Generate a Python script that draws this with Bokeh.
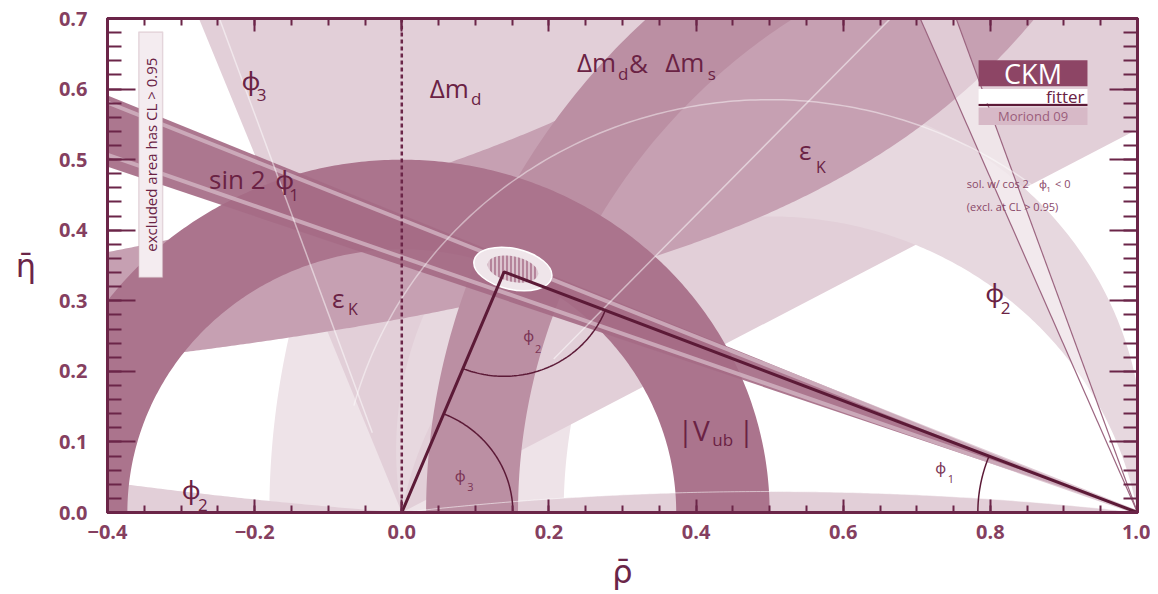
import numpy as np
from bokeh.plotting import figure
from bokeh.models import FixedTicker, LinearAxis, Range1d, Label, BoxAnnotation, Span, CustomJSTickFormatter
from bokeh.embed import file_html
from bokeh.resources import INLINE

# ---------------- values ----------------
rho_major = [-0.4, -0.2, 0.0, 0.2, 0.4, 0.6, 0.8, 1.0]
rho_labels = ["\u22120.4", "\u22120.2", "0.0", "0.2", "0.4", "0.6", "0.8", "1.0"]
rho_minor = [round(-0.4 + 0.05 * i, 2) for i in range(29)]
eta_major = [0.0, 0.1, 0.2, 0.3, 0.4, 0.5, 0.6, 0.7]
eta_labels = ["0.0", "0.1", "0.2", "0.3", "0.4", "0.5", "0.6", "0.7"]
eta_minor = [round(0.02 * i, 2) for i in range(36)]

apex = [0.139, 0.341]                 # fitted (rho, eta)
dmd_radii = [0.78, 1.18]              # Delta m_d ring around (1,0)
dms_radii = [0.842, 0.967]            # Delta m_d & Delta m_s ring around (1,0)
vub_radii = [0.373, 0.500]            # |Vub| ring around (0,0)
epsk_c = [0.389, 0.67]                # eps_K : eta = c / (rho0 - rho)
epsk_rho0 = [1.416]
phi3_deg = [28.5, 111.5]              # phi3 wedge from the origin
phi2_deg = [80.0, 100.0]              # phi2 band (circles through (0,0),(1,0))
phi2_sliver_deg = [173.2, 4.4]        # phi2 solutions hugging the axis
sin2phi1_slope = [0.350, 0.422]       # sin2phi1 band through (1,0)
sin2phi1_inner = [0.362, 0.415]
alt_slope = [2.37, 2.84]              # cos2phi1<0 solution
fit_ellipse = [0.151, 0.345, 0.108, 0.058, -0.22]
fit_core = [0.151, 0.345, 0.070, 0.036, -0.22]

# ---------------- colours ----------------
C_DMD = "#eee3e8"
C_PHI3 = "#e2cfd8"
C_PHI2 = "#e7d8df"
C_EPSK = "#c6a0b2"
C_DMS = "#bb8fa3"
C_VUB = "#ab748d"
C_S2B = "#a56b86"
C_LINE = "#5c1a37"
C_TXT = "#6a2244"
C_AX = "#6b2548"

p = figure(width=1150, height=594, x_range=Range1d(-0.4, 1.0), y_range=Range1d(0.0, 0.7),
           output_backend="svg", toolbar_location=None,
           min_border_left=107, min_border_right=13, min_border_top=18, min_border_bottom=82)
p.grid.visible = False
p.background_fill_color = "white"
p.outline_line_color = C_AX
p.outline_line_width = 3


def ring(cx, cy, r1, r2, a0=0.0, a1=np.pi, n=300):
    t = np.linspace(a0, a1, n)
    xs = np.concatenate([cx + r2 * np.cos(t), cx + r1 * np.cos(t[::-1])])
    ys = np.concatenate([cy + r2 * np.sin(t), cy + r1 * np.sin(t[::-1])])
    return xs, ys


def alpha_arc(alpha_deg, n=300):
    a = np.deg2rad(alpha_deg)
    cy = 0.5 / np.tan(a)
    r = 0.5 / abs(np.sin(a))
    t0 = np.arctan2(-cy, 0.5)
    t1 = np.pi - t0
    t = np.linspace(t0, t1, n)
    return 0.5 + r * np.cos(t), cy + r * np.sin(t)


# Delta m_d
xs, ys = ring(1.0, 0.0, dmd_radii[0], dmd_radii[1])
p.patch(xs, ys, fill_color=C_DMD, line_color=None)

# phi3 wedge
t = np.linspace(np.deg2rad(phi3_deg[0]), np.deg2rad(phi3_deg[1]), 200)
p.patch(np.concatenate([[0.0], 3 * np.cos(t)]), np.concatenate([[0.0], 3 * np.sin(t)]),
        fill_color=C_PHI3, line_color=None)

# phi2 band
x80, y80 = alpha_arc(phi2_deg[0])
x100, y100 = alpha_arc(phi2_deg[1])
p.patch(np.concatenate([x80, x100[::-1]]), np.concatenate([y80, y100[::-1]]),
        fill_color=C_PHI2, line_color=None)

# phi2 slivers along the axis
k1 = -0.5 / np.tan(np.deg2rad(phi2_sliver_deg[0]))
k2 = 0.5 / np.tan(np.deg2rad(phi2_sliver_deg[1]))
xm = np.linspace(0, 1, 200)
ym = -k1 + np.sqrt(k1 ** 2 + 0.25 - (xm - 0.5) ** 2)
p.patch(np.concatenate([xm, [1, 0]]), np.concatenate([ym, [0, 0]]), fill_color=C_PHI3, line_color=None)
xl = np.linspace(-0.45, 0, 100)
yl = k2 - np.sqrt(k2 ** 2 + 0.25 - (xl - 0.5) ** 2)
p.patch(np.concatenate([xl, [0, -0.45]]), np.concatenate([yl, [0, 0]]), fill_color=C_PHI3, line_color=None)

# eps_K
xe = np.linspace(-0.6, 1.4, 500)
lo = np.minimum(epsk_c[0] / (epsk_rho0[0] - xe), 1.5)
hi = np.minimum(epsk_c[1] / (epsk_rho0[0] - xe), 1.5)
p.patch(np.concatenate([xe, xe[::-1]]), np.concatenate([lo, hi[::-1]]), fill_color=C_EPSK, line_color=None)

# Delta m_s
xs, ys = ring(1.0, 0.0, dms_radii[0], dms_radii[1])
p.patch(xs, ys, fill_color=C_DMS, line_color=None)

# |Vub|
xs, ys = ring(0.0, 0.0, vub_radii[0], vub_radii[1])
p.patch(xs, ys, fill_color=C_VUB, line_color=None)
p.line(xm, ym, line_color="white", line_alpha=0.55, line_width=1)

# sin 2phi1
L = 1.6
p.patch([1.0, 1.0 - L, 1.0 - L], [0.0, L * sin2phi1_slope[0], L * sin2phi1_slope[1]],
        fill_color=C_S2B, line_color=None, fill_alpha=0.92)
for s in sin2phi1_inner:
    p.line([1.0, 1.0 - L], [0.0, L * s], line_color="#d6bac7", line_width=4, line_alpha=0.75)

# second sin2phi1 solution
Ly = 1.0
p.patch([1.0, 1.0 - Ly / alt_slope[0], 1.0 - Ly / alt_slope[1]], [0.0, Ly, Ly],
        fill_color="white", fill_alpha=0.45, line_color=None)
for s in alt_slope:
    p.line([1.0, 1.0 - Ly / s], [0.0, Ly], line_color="#9c6580", line_width=1.2)

# thin light contour lines
for ang, r0, r1 in [(46.5, 0.3, 1.0), (109.5, 0.12, 0.75)]:
    a = np.deg2rad(ang)
    p.line([r0 * np.cos(a), r1 * np.cos(a)], [r0 * np.sin(a), r1 * np.sin(a)],
           line_color="white", line_alpha=0.5, line_width=1.5)
ta = np.linspace(np.deg2rad(18), np.deg2rad(165), 200)
p.line(0.5 + 0.585 * np.cos(ta), 0.585 * np.sin(ta), line_color="white", line_alpha=0.45, line_width=1.5)

# fit ellipse
p.ellipse(x=[fit_ellipse[0]], y=[fit_ellipse[1]], width=[fit_ellipse[2]], height=[fit_ellipse[3]],
          angle=[fit_ellipse[4]], fill_color="#efe5ea", line_color="white", line_width=1.5)
p.ellipse(x=[fit_core[0]], y=[fit_core[1]], width=[fit_core[2]], height=[fit_core[3]],
          angle=[fit_core[4]], fill_color="#dcc4cf", line_color=None,
          hatch_pattern="vertical_line", hatch_color="#9b5a78", hatch_scale=4, hatch_weight=1.2)

# dashed rho = 0 line
p.add_layout(Span(location=0.0, dimension="height", line_color=C_AX, line_dash="4 3", line_width=2.5))

# unitarity triangle
p.line([0.0, apex[0], 1.0], [0.0, apex[1], 0.0], line_color=C_LINE, line_width=3)
gam = np.arctan2(apex[1], apex[0])
bet = np.arctan2(apex[1], 1 - apex[0])
ta = np.linspace(0, gam, 80)
p.line(0.151 * np.cos(ta), 0.151 * np.sin(ta), line_color=C_LINE, line_width=1.5)
tb = np.linspace(np.pi - bet, np.pi, 80)
p.line(1 + 0.217 * np.cos(tb), 0.217 * np.sin(tb), line_color=C_LINE, line_width=1.5)
a_left = np.arctan2(-apex[1], -apex[0])
a_right = np.arctan2(-apex[1], 1 - apex[0])
tc = np.linspace(a_left, a_right, 80)
p.line(apex[0] + 0.148 * np.cos(tc), apex[1] + 0.148 * np.sin(tc), line_color=C_LINE, line_width=1.5)

# ---------------- axes ----------------
def style_axis(ax, tick_in, minor_in, labels=True):
    ax.axis_line_color = C_AX
    ax.axis_line_width = 3
    ax.major_tick_line_color = C_AX
    ax.minor_tick_line_color = C_AX
    ax.major_tick_line_width = 2
    ax.minor_tick_line_width = 2
    ax.major_tick_in = tick_in
    ax.major_tick_out = 0
    ax.minor_tick_in = minor_in
    ax.minor_tick_out = 0
    if labels:
        ax.major_label_text_color = "#853f60"
        ax.major_label_text_font = "Open Sans"
        ax.major_label_text_font_size = "20px"
        ax.major_label_text_font_style = "bold"
    else:
        ax.formatter = CustomJSTickFormatter(code="return ''")
        ax.major_label_standoff = 0


xa = p.xaxis[0]
xa.ticker = FixedTicker(ticks=rho_major, minor_ticks=rho_minor)
xa.major_label_overrides = {v: s for v, s in zip(rho_major, rho_labels)}
style_axis(xa, 13, 7)
xa.major_label_standoff = 12
xa.axis_label = "\u03c1\u0304"
xa.axis_label_text_font = "DejaVu Sans"
xa.axis_label_text_font_size = "32px"
xa.axis_label_text_font_style = "normal"
xa.axis_label_text_color = C_AX
xa.axis_label_standoff = 11

ya = p.yaxis[0]
ya.ticker = FixedTicker(ticks=eta_major, minor_ticks=eta_minor)
ya.major_label_overrides = {v: s for v, s in zip(eta_major, eta_labels)}
style_axis(ya, 28, 14)
ya.major_label_standoff = 20
ya.axis_label = "\u03b7\u0304"
ya.axis_label_orientation = "horizontal"
ya.axis_label_text_font = "DejaVu Sans"
ya.axis_label_text_font_size = "32px"
ya.axis_label_text_font_style = "normal"
ya.axis_label_text_color = C_AX
ya.axis_label_standoff = 20

top = LinearAxis(ticker=FixedTicker(ticks=rho_major, minor_ticks=rho_minor))
style_axis(top, 13, 7, labels=False)
p.add_layout(top, "above")
right = LinearAxis(ticker=FixedTicker(ticks=eta_major, minor_ticks=eta_minor))
style_axis(right, 28, 14, labels=False)
p.add_layout(right, "right")

# ---------------- labels ----------------
FONT = "Open Sans"
GFONT = "Noto Sans"


def lab(x, y, txt, size, color=C_TXT, align="left", font=FONT, angle=0):
    p.add_layout(Label(x=x, y=y, text=txt, text_font=font, text_font_size=f"{size}px",
                       text_color=color, text_align=align, text_baseline="middle",
                       angle=angle, angle_units="deg"))


PHI = "\u03c6"
lab(-0.218, 0.613, PHI, 26, font=GFONT)
lab(-0.197, 0.592, "3", 17)
lab(-0.262, 0.472, "sin 2", 26)
lab(-0.172, 0.472, PHI, 26, font=GFONT)
lab(-0.153, 0.450, "1", 17)
lab(0.038, 0.602, "\u0394m", 26)
lab(0.094, 0.586, "d", 17)
lab(0.238, 0.638, "\u0394m", 26)
lab(0.294, 0.622, "d", 17)
lab(0.309, 0.637, "&", 26)
lab(0.358, 0.638, "\u0394m", 26)
lab(0.416, 0.622, "s", 17)
lab(0.540, 0.513, "\u03b5", 26)
lab(0.563, 0.490, "K", 16)
lab(-0.095, 0.304, "\u03b5", 26)
lab(-0.073, 0.289, "K", 16)
lab(0.793, 0.313, PHI, 26, font=GFONT)
lab(0.814, 0.290, "2", 17)
lab(0.375, 0.117, "|V", 28)
lab(0.422, 0.104, "ub", 17)
lab(0.458, 0.117, "|", 28)
lab(-0.299, 0.033, PHI, 26, font=GFONT)
lab(-0.277, 0.010, "2", 17)
lab(0.165, 0.252, PHI, 15, color="#7b3556", font=GFONT)
lab(0.181, 0.232, "2", 11, color="#7b3556")
lab(0.072, 0.053, PHI, 15, color="#7b3556", font=GFONT)
lab(0.089, 0.036, "3", 11, color="#7b3556")
lab(0.725, 0.064, PHI, 15, color="#7b3556", font=GFONT)
lab(0.742, 0.047, "1", 11, color="#7b3556")
lab(0.768, 0.466, "sol. w/ cos 2", 11, color="#8a4868")
lab(0.866, 0.466, PHI, 11, color="#8a4868", font=GFONT)
lab(0.876, 0.457, "1", 8, color="#8a4868")
lab(0.888, 0.466, "< 0", 11, color="#8a4868")
lab(0.768, 0.434, "(excl. at CL > 0.95)", 11, color="#8a4868")

# excluded-area box
p.add_layout(BoxAnnotation(left=-0.3575, right=-0.325, bottom=0.333, top=0.681,
                           fill_color="#f4ecf0", fill_alpha=1, line_color="#b8929f", line_width=1.5))
lab(-0.341, 0.507, "excluded area has CL > 0.95", 15, color=C_TXT, align="center", angle=90)

# CKMfitter logo
p.add_layout(BoxAnnotation(left=0.784, right=0.932, bottom=0.604, top=0.641,
                           fill_color="#8d4565", fill_alpha=1, line_color=None))
p.add_layout(BoxAnnotation(left=0.784, right=0.932, bottom=0.580, top=0.600,
                           fill_color="white", fill_alpha=1, line_color=None))
p.add_layout(BoxAnnotation(left=0.784, right=0.932, bottom=0.576, top=0.579,
                           fill_color=C_LINE, fill_alpha=1, line_color=None))
p.add_layout(BoxAnnotation(left=0.784, right=0.932, bottom=0.549, top=0.574,
                           fill_color="#d7b9c7", fill_alpha=1, line_color=None))
lab(0.858, 0.622, "CKM", 27, color="white", align="center")
lab(0.928, 0.589, "fitter", 17, color=C_TXT, align="right")
lab(0.858, 0.562, "Moriond 09", 13, color="#9b5d7b", align="center")

open("out.html", "w").write(file_html(p, INLINE))
